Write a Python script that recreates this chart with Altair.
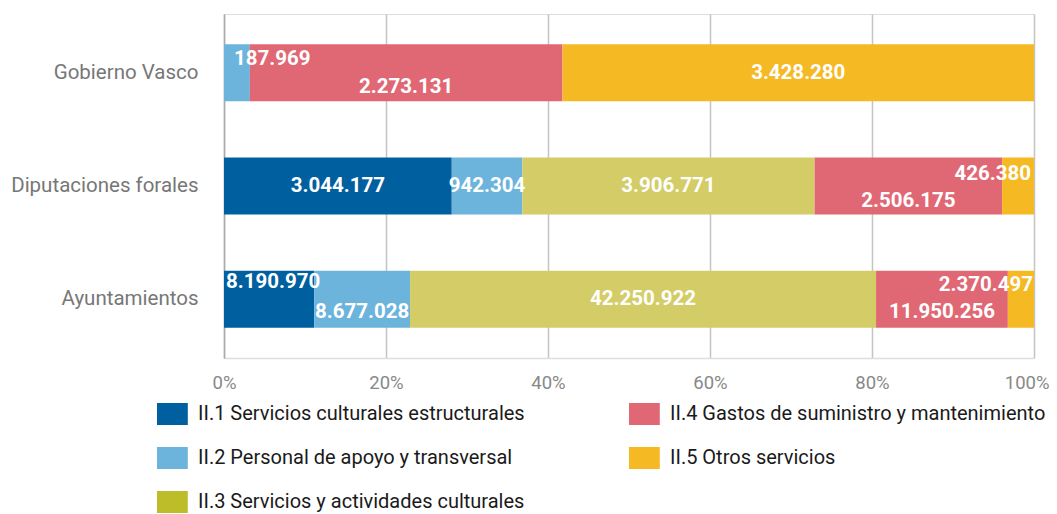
import altair as alt
import pandas as pd

entities = ["Gobierno Vasco", "Diputaciones forales", "Ayuntamientos"]
categories = [
    "II.1 Servicios culturales estructurales",
    "II.2 Personal de apoyo y transversal",
    "II.3 Servicios y actividades culturales",
    "II.4 Gastos de suministro y mantenimiento",
    "II.5 Otros servicios",
]
ii1 = [0, 3044177, 8190970]
ii2 = [187969, 942304, 8677028]
ii3 = [0, 3906771, 42250922]
ii4 = [2273131, 2506175, 11950256]
ii5 = [3428280, 426380, 2370497]
tick_values = [0, 0.2, 0.4, 0.6, 0.8, 1.0]

# colours
bar_colors = ["#005F9E", "#6CB4DC", "#D3CC67", "#E06875", "#F5B924"]
legend_colors = ["#005F9E", "#6CB4DC", "#BDBD2A", "#E06875", "#F5B924"]

# label placement (style only): (anchor on segment, align, dx, dy)
label_style = {
    ("Gobierno Vasco", 1): ("mid", "left", -3, -14),
    ("Gobierno Vasco", 3): ("mid", "center", 0, 14),
    ("Gobierno Vasco", 4): ("mid", "center", 0, 0),
    ("Diputaciones forales", 0): ("mid", "center", 0, 0),
    ("Diputaciones forales", 1): ("mid", "center", 0, 0),
    ("Diputaciones forales", 2): ("mid", "center", 0, 0),
    ("Diputaciones forales", 3): ("mid", "center", 0, 15),
    ("Diputaciones forales", 4): ("end", "right", -3, -12),
    ("Ayuntamientos", 0): ("start", "left", 2, -17),
    ("Ayuntamientos", 1): ("mid", "center", 0, 13),
    ("Ayuntamientos", 2): ("mid", "center", 0, 0),
    ("Ayuntamientos", 3): ("mid", "center", 0, 13),
    ("Ayuntamientos", 4): ("end", "right", -1, -14),
}

series = [ii1, ii2, ii3, ii4, ii5]
rows = []
for ci, (cat, vals) in enumerate(zip(categories, series)):
    for ent, v in zip(entities, vals):
        if v <= 0:
            continue
        anchor, align, dx, dy = label_style[(ent, ci)]
        rows.append({
            "entity": ent, "cat": cat, "ci": ci, "value": v,
            "label": f"{v:,}".replace(",", "."),
            "anchor": anchor, "align": align, "dx": dx, "dy": dy,
        })
df = pd.DataFrame(rows)

FONT = "Roboto, sans-serif"

y_enc = alt.Y(
    "entity:N", sort=entities, title=None,
    scale=alt.Scale(paddingInner=0.5, paddingOuter=0.27),
    axis=alt.Axis(labelFont=FONT, labelFontSize=20.5, labelColor="#777777",
                  labelPadding=26, labelLimit=400, ticks=False,
                  domainColor="#aaaaaa", domainWidth=1.5),
)
x_scale = alt.Scale(domain=[0, 1], nice=False)

bars = alt.Chart(df).mark_bar(size=57).encode(
    x=alt.X("sum(value):Q", stack="normalize", scale=x_scale, title=None,
            axis=alt.Axis(values=tick_values, format="%", labelFont=FONT,
                          labelFontSize=18.5, labelColor="#888888",
                          labelPadding=15, labelFlush=False, ticks=False,
                          labelAlign=alt.ExprRef(expr="datum.value >= 1 ? 'right' : 'center'"),
                          labelOffset=alt.ExprRef(expr="datum.value >= 1 ? 15 : 0"),
                          grid=True, gridColor="#c4c4c4", gridWidth=1.5,
                          domainColor="#dddddd", domainWidth=1.5)),
    y=y_enc,
    color=alt.condition(
        f"datum.cat === '{categories[2]}'",
        alt.value(bar_colors[2]),
        alt.Color("cat:N", scale=alt.Scale(domain=categories, range=legend_colors),
                  legend=alt.Legend(
                      title=None, orient="none", legendX=-67, legendY=389,
                      columns=2, columnPadding=104, rowPadding=22,
                      symbolType="M-1,-1L1.8,-1L1.8,1L-1,1Z",
                      symbolSize=484, symbolStrokeWidth=0, symbolOpacity=1,
                      labelFont=FONT, labelFontSize=20, labelColor="#1a1a1a",
                      labelOffset=19, labelLimit=500, padding=0)),
    ),
    order=alt.Order("ci:Q"),
)

texts = alt.Chart(df).transform_joinaggregate(
    total="sum(value)", groupby=["entity"]
).transform_window(
    cum="sum(value)", sort=[alt.SortField("ci")], groupby=["entity"],
    frame=[None, 0]
).transform_calculate(
    s="(datum.cum - datum.value) / datum.total",
    e="datum.cum / datum.total",
).transform_calculate(
    lx="datum.anchor === 'start' ? datum.s : (datum.anchor === 'end' ? datum.e : (datum.s + datum.e) / 2)"
).mark_text(
    font=FONT, fontSize=20.5, fontWeight="bold", color="white",
    baseline="middle",
    align=alt.ExprRef(expr="datum.align"),
    dx=alt.ExprRef(expr="datum.dx"),
    dy=alt.ExprRef(expr="datum.dy"),
).encode(
    x=alt.X("lx:Q", scale=x_scale),
    y=alt.Y("entity:N", sort=entities),
    text="label:N",
)

chart = alt.layer(bars, texts).properties(
    width=810, height=344,
    autosize=alt.AutoSizeParams(type="none"),
    padding={"left": 216, "top": 6, "right": 15, "bottom": 160},
).configure_view(stroke=None).configure(background="white")

chart.save("out.html", embed_options={"renderer": "svg", "actions": False})
